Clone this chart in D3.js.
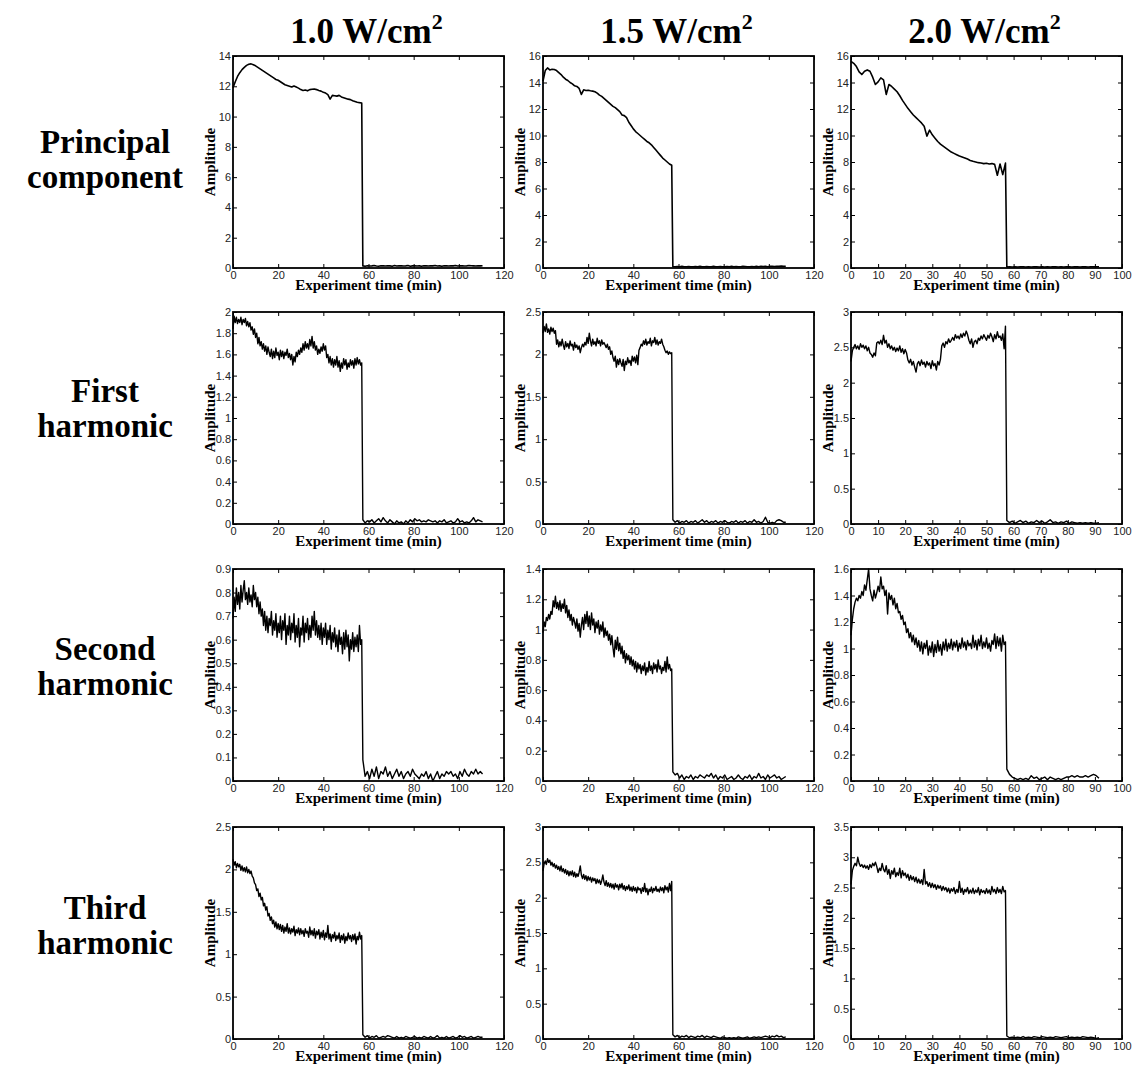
<!DOCTYPE html>
<html>
<head>
<meta charset="utf-8">
<script src="https://cdn.jsdelivr.net/npm/d3@7"></script>
<style>
  body { margin: 0; background: #fff; }
</style>
</head>
<body>
<svg id="fig" width="1138" height="1071"></svg>
<script>
// ---- Column / row headings -------------------------------------------------
const powers = ["1.0", "1.5", "2.0"];
const components = [["Principal", "component"], ["First", "harmonic"], ["Second", "harmonic"], ["Third", "harmonic"]];

// ---- Axis ranges and tick steps --------------------------------------------
const xMax = [120, 120, 100];
const xStep = [20, 20, 10];
const yMax = [[14, 16, 16], [2, 2.5, 3], [0.9, 1.4, 1.6], [2.5, 3, 3.5]];
const yStep = [[2, 2, 2], [0.2, 0.5, 0.5], [0.1, 0.2, 0.2], [0.5, 0.5, 0.5]];

// ---- Sampling: minutes between samples while insonation is on (per row),
//      and the sampling after it is switched off --------------------------
const PRE_STEP = [1, 0.5, 0.5, 0.5];
const POST_START = 57.5, POST_STEP = 1;

// ---- Principal component ---------------------------------------------------
const pcOn10 = [11.9,12.3,12.65,12.9,13.1,13.25,13.38,13.45,13.48,13.42,
  13.35,13.25,13.15,13.05,12.95,12.85,12.75,12.65,12.55,12.45,
  12.4,12.3,12.2,12.1,12.05,12.0,11.95,12.02,11.95,11.88,
  11.78,11.72,11.75,11.7,11.78,11.8,11.82,11.78,11.72,11.68,
  11.6,11.55,11.45,11.15,11.4,11.38,11.35,11.4,11.3,11.25,
  11.2,11.15,11.12,11.05,11.0,10.95,10.92,10.9];
const pcOff10 = [0.14,0.12,0.15,0.13,0.14,0.16,0.13,0.12,0.15,0.14,
  0.13,0.15,0.14,0.12,0.16,0.13,0.14,0.15,0.13,0.14,
  0.16,0.12,0.14,0.15,0.13,0.14,0.12,0.15,0.14,0.13,
  0.15,0.14,0.16,0.13,0.14,0.12,0.15,0.14,0.13,0.15,
  0.14,0.16,0.13,0.14,0.15,0.13,0.14,0.16,0.15,0.14,
  0.13,0.15,0.14,0.15];
const pcOn15 = [14.1,14.9,15.1,14.95,15.0,14.98,14.9,14.75,14.6,14.4,
  14.25,14.15,14.0,13.9,13.75,13.7,13.55,13.1,13.45,13.4,
  13.42,13.38,13.35,13.3,13.2,13.05,12.95,12.8,12.65,12.5,
  12.35,12.2,12.1,11.95,11.8,11.55,11.5,11.35,11.0,10.75,
  10.5,10.3,10.15,10.0,9.85,9.7,9.55,9.45,9.3,9.1,
  8.9,8.7,8.5,8.3,8.15,8.0,7.85,7.75];
const pcOff15 = [0.1,0.09,0.11,0.1,0.12,0.09,0.1,0.11,0.1,0.09,
  0.11,0.1,0.12,0.1,0.09,0.11,0.1,0.1,0.12,0.09,
  0.1,0.11,0.1,0.09,0.11,0.1,0.12,0.1,0.11,0.09,
  0.1,0.12,0.11,0.1,0.09,0.11,0.1,0.12,0.1,0.13,
  0.11,0.12,0.1,0.13,0.12,0.11,0.13,0.12,0.14,0.12,
  0.13];
const pcOn20 = [15.6,15.45,15.2,14.8,14.6,14.85,14.95,14.85,14.4,13.85,
  14.05,14.35,14.2,13.1,13.85,13.7,13.5,13.3,13.0,12.65,
  12.35,12.05,11.8,11.55,11.35,11.15,10.95,10.7,9.95,10.4,
  10.05,9.8,9.55,9.35,9.2,9.05,8.9,8.75,8.65,8.55,
  8.45,8.38,8.3,8.22,8.12,8.05,8.0,7.95,7.92,7.88,
  7.9,7.85,7.88,7.82,7.0,7.85,7.05,7.92];
const pcOff20 = [0.08,0.1,0.07,0.09,0.08,0.1,0.09,0.07,0.1,0.08,
  0.09,0.1,0.08,0.09,0.07,0.1,0.08,0.09,0.1,0.08,
  0.09,0.07,0.1,0.09,0.08,0.1,0.09,0.08,0.1,0.09,
  0.08,0.1,0.09,0.1,0.09];

// ---- First harmonic --------------------------------------------------------
const h1On10 = [1.84,1.96,1.9,1.95,1.89,1.93,1.9,1.95,1.88,1.93,
  1.9,1.94,1.87,1.91,1.86,1.9,1.83,1.86,1.79,1.84,
  1.76,1.8,1.7,1.76,1.68,1.72,1.65,1.7,1.63,1.68,
  1.6,1.67,1.62,1.58,1.65,1.56,1.63,1.57,1.66,1.59,
  1.62,1.55,1.64,1.58,1.63,1.56,1.62,1.59,1.65,1.57,
  1.61,1.55,1.6,1.5,1.58,1.53,1.62,1.58,1.64,1.6,
  1.66,1.62,1.7,1.64,1.72,1.66,1.7,1.65,1.74,1.68,
  1.77,1.66,1.72,1.64,1.68,1.6,1.65,1.61,1.67,1.63,
  1.7,1.64,1.68,1.57,1.6,1.52,1.58,1.5,1.56,1.48,
  1.55,1.5,1.58,1.48,1.54,1.44,1.52,1.47,1.56,1.5,
  1.55,1.46,1.52,1.48,1.55,1.5,1.54,1.47,1.56,1.5,
  1.57,1.51,1.55,1.5,1.52];
const h1Off10 = [0.04,0.01,0.03,0.02,0.04,0.01,0.03,0.05,0.02,0.06,
  0.03,0.01,0.04,0.02,0.0,0.03,0.01,0.02,0.0,0.03,
  0.01,0.04,0.02,0.05,0.03,0.04,0.02,0.03,0.02,0.04,
  0.03,0.02,0.03,0.01,0.03,0.02,0.04,0.01,0.02,0.03,
  0.01,0.02,0.05,0.02,0.03,0.01,0.02,0.01,0.03,0.06,
  0.02,0.04,0.03,0.02];
const h1On15 = [2.25,2.33,2.27,2.36,2.26,2.3,2.24,2.32,2.27,2.31,
  2.25,2.28,2.12,2.17,2.09,2.15,2.1,2.18,2.11,2.06,
  2.15,2.09,2.13,2.07,2.16,2.1,2.12,2.05,2.14,2.08,
  2.11,2.06,2.1,2.02,2.08,2.12,2.09,2.14,2.11,2.2,
  2.13,2.25,2.16,2.1,2.18,2.12,2.15,2.1,2.19,2.13,
  2.16,2.1,2.17,2.12,2.14,2.11,2.08,2.12,2.06,2.09,
  2.0,2.04,1.96,1.92,1.98,1.85,1.94,1.88,1.95,1.9,
  1.86,1.94,1.81,1.92,1.88,1.96,1.9,1.93,1.87,1.98,
  1.92,1.97,1.9,1.99,1.88,2.05,2.08,2.12,2.1,2.16,
  2.12,2.18,2.11,2.15,2.13,2.19,2.1,2.16,2.14,2.2,
  2.12,2.17,2.11,2.15,2.13,2.18,2.12,2.09,2.05,2.02,
  2.04,2.0,2.03,2.01,2.02];
const h1Off15 = [0.05,0.02,0.04,0.01,0.03,0.02,0.04,0.01,0.03,0.02,
  0.04,0.01,0.03,0.05,0.02,0.04,0.01,0.03,0.02,0.04,
  0.01,0.03,0.02,0.04,0.02,0.01,0.03,0.02,0.04,0.01,
  0.03,0.02,0.04,0.01,0.03,0.02,0.05,0.02,0.03,0.01,
  0.03,0.08,0.02,0.01,0.02,0.01,0.04,0.05,0.04,0.02,
  0.02];
const h1On20 = [2.3,2.45,2.5,2.54,2.48,2.52,2.47,2.55,2.5,2.53,
  2.48,2.52,2.45,2.5,2.42,2.4,2.36,2.42,2.38,2.56,
  2.58,2.55,2.6,2.54,2.67,2.56,2.6,2.5,2.55,2.48,
  2.52,2.46,2.5,2.44,2.49,2.45,2.52,2.43,2.48,2.41,
  2.47,2.42,2.32,2.28,2.33,2.25,2.3,2.22,2.15,2.27,
  2.3,2.24,2.32,2.26,2.29,2.22,2.3,2.25,2.28,2.2,
  2.31,2.24,2.27,2.18,2.3,2.25,2.33,2.52,2.56,2.5,
  2.58,2.55,2.62,2.57,2.6,2.64,2.6,2.68,2.63,2.66,
  2.62,2.69,2.64,2.7,2.66,2.73,2.68,2.6,2.55,2.62,
  2.5,2.58,2.6,2.55,2.63,2.6,2.66,2.62,2.68,2.64,
  2.6,2.67,2.63,2.7,2.65,2.58,2.68,2.62,2.72,2.64,
  2.66,2.6,2.69,2.48,2.8];
const h1Off20 = [0.05,0.02,0.04,0.01,0.03,0.05,0.02,0.04,0.01,0.03,
  0.02,0.05,0.02,0.04,0.01,0.03,0.06,0.02,0.03,0.01,
  0.03,0.02,0.04,0.01,0.03,0.02,0.01,0.02,0.01,0.02,
  0.01,0.02,0.01,0.01,0.02];

// ---- Second harmonic -------------------------------------------------------
const h2On10 = [0.69,0.78,0.72,0.82,0.75,0.8,0.73,0.83,0.76,0.81,
  0.85,0.77,0.8,0.75,0.82,0.76,0.79,0.74,0.83,0.77,
  0.8,0.74,0.78,0.71,0.76,0.7,0.73,0.66,0.72,0.64,
  0.7,0.63,0.69,0.66,0.72,0.62,0.68,0.64,0.71,0.61,
  0.67,0.63,0.7,0.6,0.68,0.64,0.71,0.58,0.66,0.62,
  0.7,0.6,0.67,0.63,0.71,0.59,0.66,0.61,0.69,0.57,
  0.65,0.62,0.7,0.59,0.67,0.63,0.69,0.6,0.66,0.61,
  0.7,0.64,0.72,0.62,0.68,0.61,0.66,0.6,0.67,0.58,
  0.65,0.61,0.67,0.58,0.64,0.6,0.66,0.56,0.63,0.59,
  0.65,0.57,0.62,0.55,0.64,0.58,0.61,0.54,0.63,0.56,
  0.64,0.57,0.62,0.51,0.6,0.56,0.63,0.55,0.61,0.57,
  0.62,0.55,0.66,0.58,0.6];
const h2Off10 = [0.09,0.02,0.04,0.01,0.05,0.02,0.06,0.01,0.04,0.03,
  0.06,0.02,0.04,0.01,0.03,0.05,0.02,0.04,0.01,0.03,
  0.04,0.02,0.05,0.03,0.02,0.01,0.03,0.02,0.04,0.01,
  0.03,0.0,0.02,0.04,0.01,0.03,0.02,0.04,0.03,0.04,
  0.02,0.03,0.01,0.04,0.02,0.05,0.03,0.02,0.04,0.03,
  0.05,0.03,0.04,0.03];
const h2On15 = [0.98,1.05,1.02,1.08,1.06,1.1,1.07,1.12,1.1,1.19,
  1.15,1.22,1.14,1.18,1.13,1.19,1.12,1.17,1.14,1.2,
  1.11,1.16,1.08,1.13,1.06,1.1,1.03,1.08,1.05,1.01,
  1.07,0.99,1.04,0.95,1.03,1.08,1.0,1.1,1.04,1.12,
  1.02,1.09,1.0,1.11,1.03,1.07,0.98,1.05,1.01,1.06,
  0.97,1.03,0.99,1.05,0.95,1.01,0.96,0.99,0.93,0.97,
  0.9,0.96,0.88,0.82,0.93,0.87,0.95,0.86,0.91,0.84,
  0.89,0.81,0.86,0.78,0.84,0.8,0.83,0.77,0.82,0.76,
  0.8,0.74,0.79,0.72,0.78,0.74,0.77,0.71,0.76,0.73,
  0.78,0.7,0.75,0.72,0.79,0.73,0.76,0.71,0.78,0.74,
  0.77,0.72,0.8,0.74,0.76,0.71,0.75,0.73,0.79,0.72,
  0.82,0.74,0.77,0.73,0.74];
const h2Off15 = [0.06,0.04,0.05,0.02,0.04,0.01,0.03,0.02,0.04,0.01,
  0.03,0.02,0.04,0.03,0.02,0.04,0.03,0.05,0.02,0.04,
  0.01,0.03,0.02,0.04,0.01,0.02,0.03,0.01,0.02,0.04,
  0.02,0.01,0.03,0.02,0.04,0.01,0.03,0.02,0.05,0.02,
  0.03,0.01,0.04,0.02,0.03,0.04,0.02,0.03,0.01,0.02,
  0.03];
const h2On20 = [1.1,1.22,1.3,1.35,1.38,1.36,1.4,1.38,1.43,1.4,
  1.48,1.44,1.52,1.6,1.45,1.4,1.36,1.44,1.38,1.42,
  1.47,1.43,1.54,1.45,1.47,1.4,1.44,1.26,1.42,1.37,
  1.4,1.33,1.38,1.3,1.34,1.27,1.28,1.22,1.25,1.18,
  1.2,1.12,1.15,1.08,1.12,1.05,1.1,1.03,1.08,1.01,
  1.06,0.98,1.05,0.96,1.04,1.0,1.06,0.95,1.02,0.97,
  1.05,0.94,1.03,0.97,1.06,0.98,1.03,0.95,1.05,0.99,
  1.07,0.98,1.04,1.0,1.07,0.99,1.05,1.01,1.06,0.98,
  1.04,1.0,1.08,1.01,1.05,0.99,1.06,1.02,1.04,1.0,
  1.1,1.01,1.06,0.99,1.07,1.02,1.1,1.0,1.05,1.01,
  1.08,1.0,1.04,0.98,1.06,1.03,1.11,1.0,1.09,1.02,
  1.08,0.98,1.1,1.03,1.05];
const h2Off20 = [0.09,0.05,0.03,0.02,0.01,0.02,0.01,0.02,0.01,0.04,
  0.02,0.03,0.01,0.02,0.03,0.01,0.03,0.02,0.01,0.02,
  0.01,0.02,0.03,0.03,0.04,0.03,0.04,0.03,0.03,0.04,
  0.03,0.04,0.05,0.04,0.02];

// ---- Third harmonic --------------------------------------------------------
const h3On10 = [2.12,2.05,2.09,2.02,2.07,2.03,2.06,1.99,2.04,1.98,
  2.02,1.97,2.03,1.96,2.0,1.95,1.98,1.92,1.9,1.84,
  1.82,1.75,1.77,1.68,1.72,1.64,1.67,1.57,1.6,1.52,
  1.56,1.45,1.48,1.4,1.44,1.36,1.4,1.32,1.38,1.3,
  1.36,1.29,1.35,1.27,1.34,1.25,1.32,1.27,1.36,1.25,
  1.31,1.24,1.3,1.26,1.33,1.22,1.29,1.25,1.31,1.23,
  1.3,1.24,1.28,1.21,1.3,1.25,1.27,1.2,1.32,1.23,
  1.28,1.22,1.3,1.19,1.27,1.23,1.29,1.18,1.26,1.2,
  1.28,1.17,1.25,1.2,1.34,1.18,1.24,1.15,1.23,1.19,
  1.26,1.16,1.22,1.18,1.25,1.14,1.22,1.17,1.24,1.13,
  1.21,1.16,1.25,1.18,1.22,1.15,1.23,1.17,1.24,1.12,
  1.21,1.17,1.26,1.18,1.22];
const h3Off10 = [0.05,0.02,0.04,0.01,0.03,0.02,0.04,0.01,0.02,0.03,
  0.02,0.04,0.03,0.02,0.01,0.03,0.01,0.02,0.01,0.03,
  0.02,0.01,0.02,0.03,0.01,0.02,0.01,0.03,0.02,0.01,
  0.03,0.01,0.02,0.04,0.01,0.02,0.01,0.03,0.01,0.02,
  0.03,0.01,0.02,0.04,0.02,0.03,0.01,0.02,0.03,0.01,
  0.02,0.03,0.02,0.02];
const h3On15 = [2.38,2.48,2.52,2.47,2.55,2.5,2.53,2.46,2.5,2.44,
  2.48,2.42,2.46,2.4,2.44,2.38,2.45,2.37,2.41,2.35,
  2.4,2.33,2.38,2.31,2.37,2.32,2.38,2.3,2.36,2.29,
  2.34,2.3,2.36,2.45,2.32,2.27,2.33,2.26,2.31,2.24,
  2.3,2.25,2.29,2.22,2.28,2.24,2.27,2.2,2.26,2.21,
  2.25,2.19,2.24,2.32,2.22,2.17,2.24,2.16,2.21,2.15,
  2.2,2.14,2.19,2.12,2.2,2.15,2.18,2.11,2.19,2.14,
  2.2,2.12,2.17,2.1,2.16,2.12,2.18,2.1,2.15,2.09,
  2.16,2.1,2.14,2.07,2.15,2.11,2.13,2.06,2.14,2.09,
  2.2,2.08,2.13,2.04,2.12,2.09,2.15,2.07,2.13,2.1,
  2.16,2.09,2.12,2.08,2.15,2.1,2.14,2.07,2.17,2.11,
  2.15,2.08,2.2,2.1,2.23];
const h3Off15 = [0.06,0.03,0.05,0.02,0.04,0.03,0.05,0.02,0.04,0.03,
  0.02,0.04,0.03,0.05,0.02,0.04,0.03,0.02,0.04,0.03,
  0.02,0.01,0.03,0.02,0.01,0.02,0.01,0.02,0.01,0.03,
  0.02,0.01,0.02,0.03,0.01,0.02,0.03,0.02,0.03,0.02,
  0.03,0.04,0.03,0.02,0.04,0.03,0.05,0.03,0.04,0.02,
  0.03];
const h3On20 = [2.55,2.78,2.85,2.9,2.86,3.0,2.9,2.85,2.88,2.83,
  2.87,2.82,2.86,2.8,2.88,2.83,2.9,2.86,2.92,2.85,
  2.75,2.82,2.78,2.9,2.8,2.76,2.86,2.72,2.8,2.65,
  2.78,2.72,2.82,2.68,2.75,2.7,2.82,2.66,2.78,2.7,
  2.74,2.66,2.72,2.62,2.7,2.63,2.68,2.6,2.67,2.58,
  2.64,2.57,2.63,2.55,2.8,2.56,2.6,2.52,2.58,2.5,
  2.57,2.5,2.55,2.47,2.54,2.49,2.53,2.45,2.52,2.46,
  2.5,2.43,2.49,2.41,2.48,2.44,2.5,2.4,2.47,2.42,
  2.6,2.42,2.49,2.39,2.47,2.43,2.5,2.4,2.46,2.41,
  2.49,2.4,2.46,2.42,2.5,2.38,2.47,2.42,2.45,2.4,
  2.48,2.41,2.46,2.39,2.52,2.43,2.47,2.4,2.5,2.42,
  2.47,2.4,2.52,2.43,2.45];
const h3Off20 = [0.05,0.02,0.03,0.02,0.03,0.02,0.04,0.02,0.03,0.02,
  0.04,0.03,0.02,0.04,0.03,0.02,0.03,0.02,0.04,0.03,
  0.02,0.03,0.04,0.02,0.03,0.02,0.03,0.02,0.04,0.03,
  0.02,0.03,0.02,0.01,0.02];

// Grid of [on, off] series, rows = spectral component, columns = intensity
const seriesGrid = [
  [[pcOn10, pcOff10], [pcOn15, pcOff15], [pcOn20, pcOff20]],
  [[h1On10, h1Off10], [h1On15, h1Off15], [h1On20, h1Off20]],
  [[h2On10, h2Off10], [h2On15, h2Off15], [h2On20, h2Off20]],
  [[h3On10, h3Off10], [h3On15, h3Off15], [h3On20, h3Off20]]
];

// ---- Layout -----------------------------------------------------------------
const colX = [233, 543, 851], PW = 271;
const rowY = [56, 312, 569, 827], PH = 212;
const rowLabelY = [153, 402, 660, 919];
const SERIF = "'Liberation Serif', 'Times New Roman', Times, serif";
const SANS = "'Liberation Sans', Arial, Helvetica, sans-serif";

const svg = d3.select("#fig");
svg.append("rect").attr("width", 1138).attr("height", 1071).attr("fill", "#fff");

const fmt = d => String(+d.toFixed(2));
const ticksFor = (max, step) => d3.range(0, max + step / 2, step).map(v => +v.toFixed(2));

function styleAxis(sel) {
  sel.select(".domain").remove();
  sel.selectAll("line").attr("stroke", "#000").attr("stroke-width", 1);
  sel.selectAll("text").attr("font-family", SANS).attr("font-size", 11).attr("fill", "#222");
}

seriesGrid.forEach((row, r) => row.forEach(([on, off], c) => {
  const x0 = colX[c], y0 = rowY[r];
  const x = d3.scaleLinear().domain([0, xMax[c]]).range([x0, x0 + PW]);
  const y = d3.scaleLinear().domain([0, yMax[r][c]]).range([y0 + PH, y0]);
  const pts = on.map((v, i) => [i * PRE_STEP[r], v])
    .concat(off.map((v, j) => [POST_START + j * POST_STEP, v]));

  const g = svg.append("g");

  g.append("path")
    .datum(pts)
    .attr("d", d3.line().x(d => x(d[0])).y(d => y(d[1])))
    .attr("fill", "none")
    .attr("stroke", "#000")
    .attr("stroke-width", r === 0 ? 1.6 : 1.4)
    .attr("stroke-linejoin", "round");

  const xt = ticksFor(xMax[c], xStep[c]);
  const yt = ticksFor(yMax[r][c], yStep[r][c]);

  g.append("g").attr("transform", `translate(0,${y0 + PH})`)
    .call(d3.axisBottom(x).tickValues(xt).tickFormat(fmt).tickSizeInner(-4).tickSizeOuter(0).tickPadding(3))
    .call(styleAxis);
  g.append("g").attr("transform", `translate(0,${y0})`)
    .call(d3.axisTop(x).tickValues(xt).tickFormat("").tickSizeInner(-4).tickSizeOuter(0))
    .call(styleAxis);
  g.append("g").attr("transform", `translate(${x0},0)`)
    .call(d3.axisLeft(y).tickValues(yt).tickFormat(fmt).tickSizeInner(-4).tickSizeOuter(0).tickPadding(2))
    .call(styleAxis);
  g.append("g").attr("transform", `translate(${x0 + PW},0)`)
    .call(d3.axisRight(y).tickValues(yt).tickFormat("").tickSizeInner(-4).tickSizeOuter(0))
    .call(styleAxis);

  // plot frame
  g.append("rect")
    .attr("x", x0).attr("y", y0).attr("width", PW).attr("height", PH)
    .attr("fill", "none").attr("stroke", "#000").attr("stroke-width", 1.8);

  // axis titles
  g.append("text")
    .attr("x", x0 + PW / 2).attr("y", y0 + PH + 21.5)
    .attr("text-anchor", "middle")
    .attr("font-family", SERIF).attr("font-weight", "bold").attr("font-size", 15)
    .text("Experiment time (min)");
  g.append("text")
    .attr("transform", `translate(${x0 - 18},${y0 + PH / 2}) rotate(-90)`)
    .attr("text-anchor", "middle")
    .attr("font-family", SERIF).attr("font-weight", "bold").attr("font-size", 15)
    .text("Amplitude");
}));

// column headings (intensity)
svg.selectAll("text.col-title")
  .data(powers)
  .join("text")
  .attr("class", "col-title")
  .attr("x", (d, i) => colX[i] + PW / 2 - 2)
  .attr("y", 43)
  .attr("text-anchor", "middle")
  .attr("font-family", SERIF).attr("font-weight", "bold").attr("font-size", 35)
  .each(function (d) {
    const t = d3.select(this);
    t.append("tspan").text(`${d} W/cm`);
    t.append("tspan").attr("dy", -14).attr("font-size", 22).text("2");
  });

// row headings (spectral component)
svg.selectAll("text.row-title")
  .data(components)
  .join("text")
  .attr("class", "row-title")
  .attr("text-anchor", "middle")
  .attr("font-family", SERIF).attr("font-weight", "bold").attr("font-size", 33)
  .each(function (lines, i) {
    const t = d3.select(this);
    lines.forEach((line, k) => {
      t.append("tspan").attr("x", 105).attr("y", rowLabelY[i] + k * 35).text(line);
    });
  });
</script>
</body>
</html>
